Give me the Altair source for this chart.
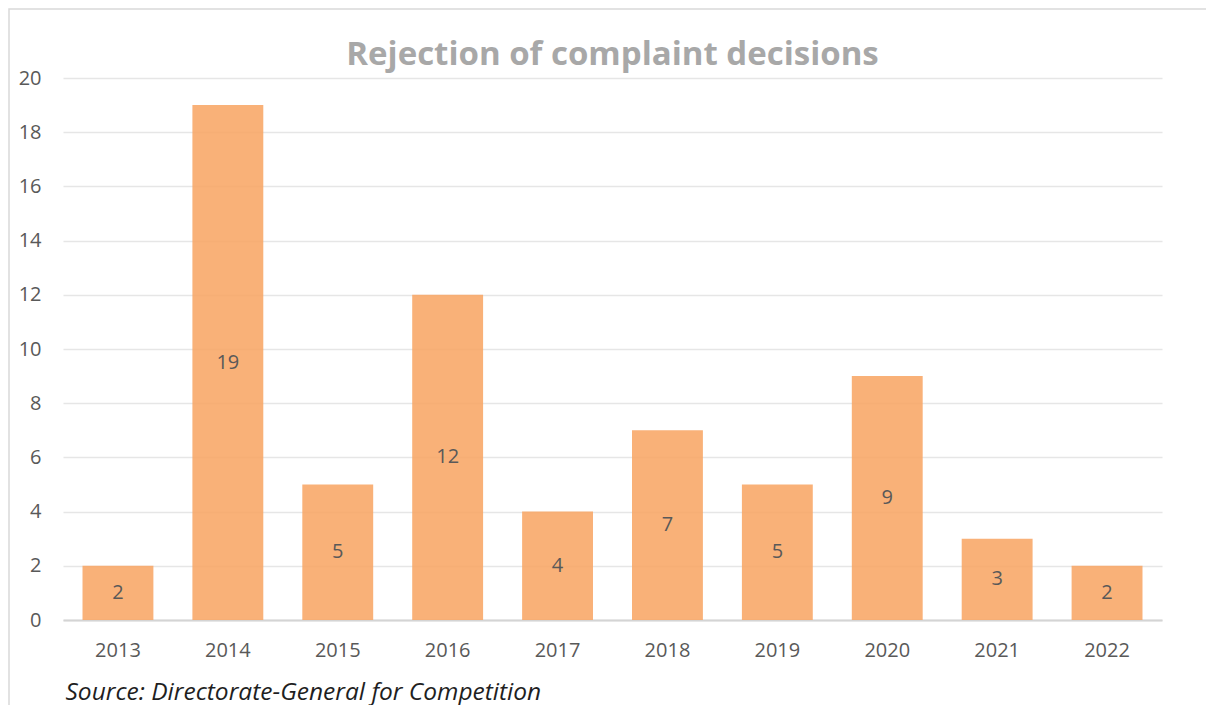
import altair as alt
import pandas as pd

years = ["2013", "2014", "2015", "2016", "2017", "2018", "2019", "2020", "2021", "2022"]
counts = [2, 19, 5, 12, 4, 7, 5, 9, 3, 2]
y_ticks = list(range(0, 21, 2))

df = pd.DataFrame({"year": years, "count": counts})

FONT = "Open Sans"
LABEL = "#595959"

x_enc = alt.X(
    "year:N",
    sort=years,
    scale=alt.Scale(paddingInner=0.355, paddingOuter=0.1775),
    axis=alt.Axis(
        title="Source: Directorate-General for Competition",
        titleFont=FONT, titleFontSize=24.5, titleFontStyle="italic", titleFontWeight="normal",
        titleColor="#1F1F1F", titleAnchor="start", titleAlign="left", titleX=2, titleY=79,
        titleBaseline="alphabetic",
        labelAngle=0, labelFont=FONT, labelFontSize=20, labelColor=LABEL, labelPadding=20,
        ticks=False, domain=True, domainColor="#D4D4D4", domainWidth=2, grid=False,
    ),
)
y_enc = alt.Y(
    "count:Q",
    scale=alt.Scale(domain=[0, 20], nice=False),
    axis=alt.Axis(
        title=None, values=y_ticks, labelFont=FONT, labelFontSize=20, labelColor=LABEL,
        labelPadding=22, ticks=False, domain=False, grid=True, gridColor="#E6E6E6", gridWidth=1.5,
    ),
)

frame = alt.Chart(pd.DataFrame({"a": [0]})).mark_rect(
    filled=False, stroke="#D9D9D9", strokeWidth=1.5
).encode(x=alt.value(-54), y=alt.value(-69), x2=alt.value(3000), y2=alt.value(3000))

bars = alt.Chart(df).mark_bar(color="#F8A462", opacity=0.86).encode(x=x_enc, y=y_enc)

labels = alt.Chart(df).transform_calculate(mid="datum.count / 2").mark_text(
    font=FONT, fontSize=20, color=LABEL, baseline="middle"
).encode(x=alt.X("year:N", sort=years), y=alt.Y("mid:Q"), text="count:Q")

chart = alt.layer(frame, bars, labels).properties(
    width=1099,
    height=542,
    title=alt.TitleParams(
        "Rejection of complaint decisions", font=FONT, fontSize=33, fontWeight="bold",
        color="#A8A8A8", anchor="middle", frame="group", baseline="alphabetic", offset=-90,
    ),
    autosize=alt.AutoSizeParams(type="none"),
    padding={"left": 55, "top": 70, "right": 44, "bottom": 85},
).configure_view(stroke=None)

chart.save("out.html", embed_options={"renderer": "svg", "actions": False})
